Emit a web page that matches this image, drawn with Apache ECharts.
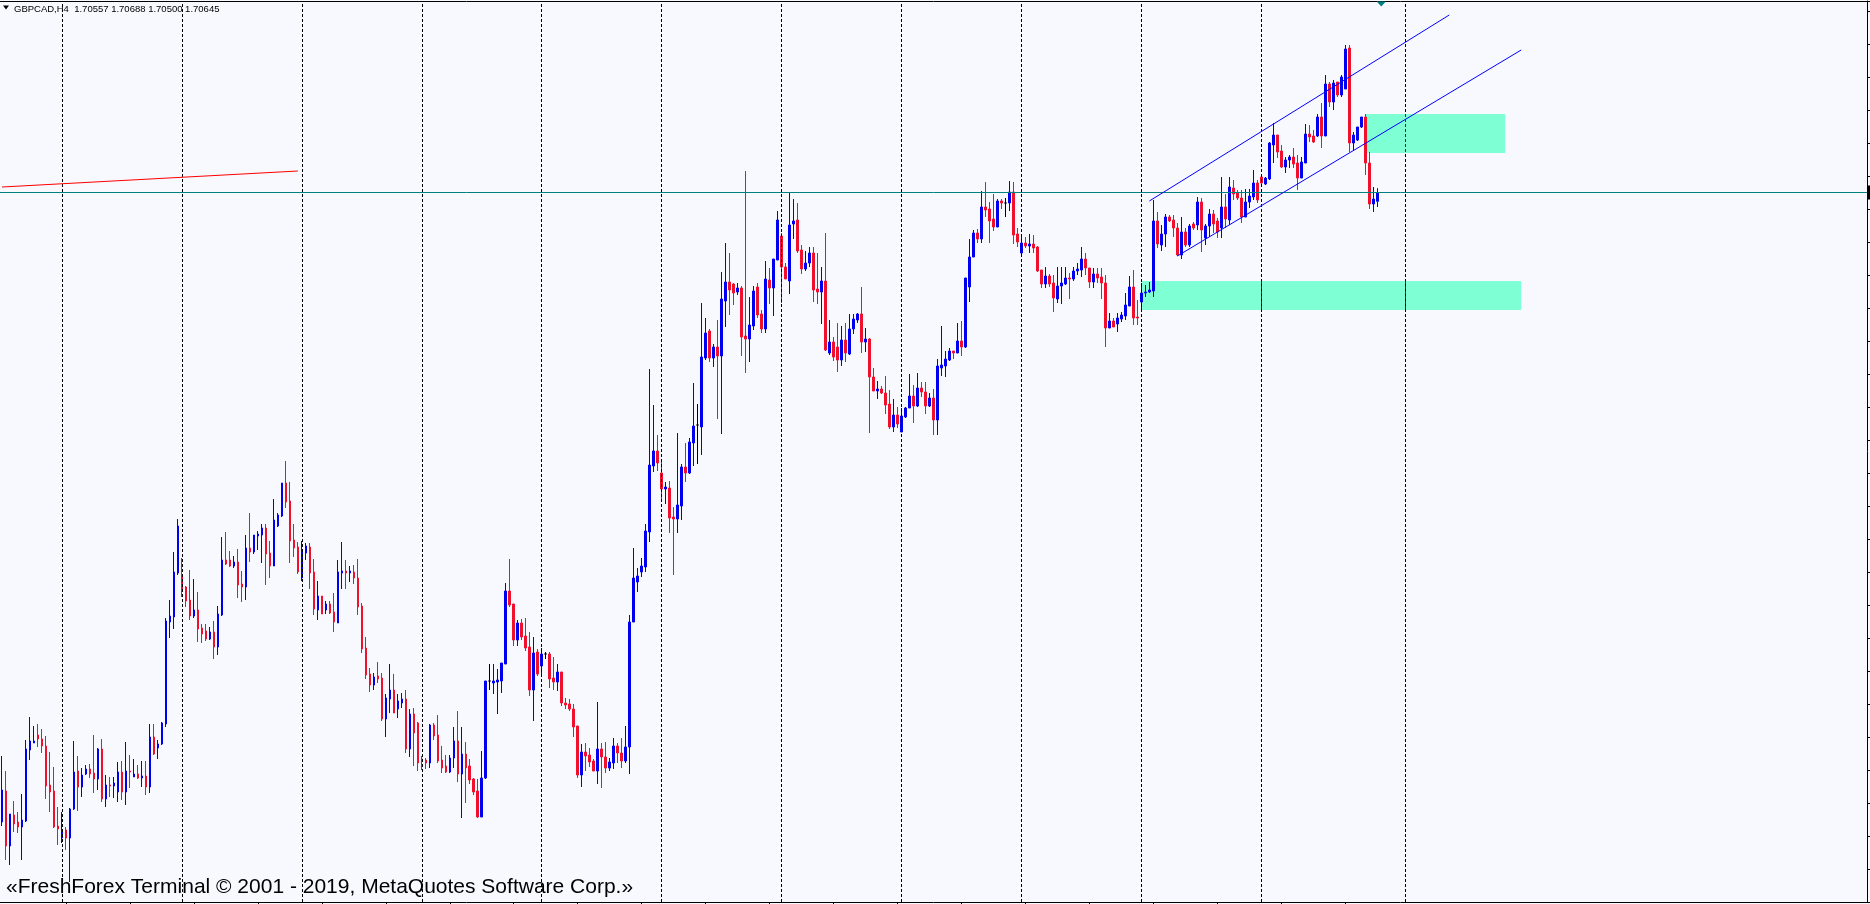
<!DOCTYPE html>
<html><head><meta charset="utf-8">
<script src="https://cdn.jsdelivr.net/npm/echarts@6/dist/echarts.min.js"></script>
<style>html,body{margin:0;padding:0;background:#f8f8ff;overflow:hidden}#chart{width:1870px;height:904px}</style>
</head><body><div id="chart"></div>
<script>
const opens = [1.6435,1.6466,1.6411,1.6442,1.6435,1.6430,1.6436,1.6507,1.6514,1.6522,
1.6518,1.6511,1.6472,1.6466,1.6431,1.6419,1.6427,1.6419,1.6448,1.6486,
1.6470,1.6483,1.6488,1.6484,1.6478,1.6508,1.6458,1.6472,1.6471,1.6465,
1.6485,1.6465,1.6486,1.6480,1.6483,1.6479,1.6481,1.6470,1.6520,1.6509,
1.6513,1.6533,1.6635,1.6640,1.6684,1.6682,1.6670,1.6657,1.6641,1.6647,
1.6629,1.6626,1.6618,1.6625,1.6610,1.6642,1.6697,1.6697,1.6691,1.6695,
1.6673,1.6670,1.6709,1.6705,1.6721,1.6722,1.6729,1.6704,1.6691,1.6731,
1.6741,1.6774,1.6756,1.6717,1.6710,1.6679,1.6704,1.6710,1.6685,1.6647,
1.6661,1.6647,1.6653,1.6645,1.6634,1.6684,1.6686,1.6684,1.6685,1.6679,
1.6651,1.6609,1.6583,1.6572,1.6581,1.6579,1.6538,1.6558,1.6567,1.6548,
1.6554,1.6558,1.6508,1.6543,1.6534,1.6498,1.6497,1.6494,1.6532,1.6522,
1.6497,1.6491,1.6485,1.6499,1.6516,1.6483,1.6503,1.6491,1.6478,1.6466,
1.6440,1.6479,1.6576,1.6574,1.6575,1.6576,1.6593,1.6666,1.6653,1.6617,
1.6634,1.6621,1.6610,1.6567,1.6605,1.6591,1.6603,1.6603,1.6579,1.6575,
1.6585,1.6554,1.6553,1.6548,1.6531,1.6482,1.6505,1.6502,1.6496,1.6486,
1.6508,1.6500,1.6489,1.6494,1.6511,1.6504,1.6496,1.6510,1.6635,1.6675,
1.6685,1.6690,1.6725,1.6791,1.6806,1.6784,1.6768,1.6769,1.6740,1.6738,
1.6751,1.6790,1.6784,1.6814,1.6832,1.6830,1.6899,1.6926,1.6899,1.6910,
1.6901,1.6956,1.6975,1.6973,1.6965,1.6969,1.6921,1.6918,1.6931,1.6970,
1.6943,1.6928,1.6977,1.6969,1.6997,1.7021,1.6990,1.6976,1.7033,1.7037,
1.7007,1.6988,1.6994,1.7004,1.6968,1.6965,1.6976,1.6904,1.6915,1.6910,
1.6897,1.6917,1.6903,1.6928,1.6937,1.6943,1.6915,1.6918,1.6880,1.6866,
1.6868,1.6864,1.6853,1.6830,1.6842,1.6825,1.6840,1.6849,1.6861,1.6851,
1.6869,1.6865,1.6851,1.6859,1.6837,1.6889,1.6891,1.6897,1.6906,1.6904,
1.6916,1.6910,1.6970,1.7000,1.7024,1.7018,1.7050,1.7048,1.7038,1.7030,
1.7056,1.7054,1.7054,1.7065,1.7023,1.7004,1.7014,1.7011,1.7013,1.7010,
1.6987,1.6973,1.6981,1.6974,1.6958,1.6971,1.6973,1.6979,1.6978,1.6986,
1.6987,1.6998,1.6989,1.6975,1.6983,1.6980,1.6974,1.6929,1.6936,1.6933,
1.6938,1.6941,1.6951,1.6970,1.6940,1.6955,1.6964,1.6965,1.6966,1.7036,
1.7012,1.7023,1.7040,1.7037,1.7029,1.7002,1.7025,1.7012,1.7033,1.7032,
1.7055,1.7019,1.7031,1.7043,1.7036,1.7029,1.7050,1.7037,1.7069,1.7064,
1.7059,1.7040,1.7055,1.7060,1.7074,1.7080,1.7073,1.7078,1.7112,1.7122,
1.7106,1.7090,1.7097,1.7100,1.7094,1.7079,1.7094,1.7123,1.7121,1.7121,
1.7140,1.7121,1.7173,1.7155,1.7175,1.7162,1.7168,1.7209,1.7114,1.7117,
1.7130,1.7140,1.7094,1.7053,1.70557];

const closes = [1.6467,1.6411,1.6443,1.6433,1.6430,1.6437,1.6508,1.6516,1.6516,1.6518,
1.6511,1.6471,1.6465,1.6430,1.6428,1.6427,1.6419,1.6448,1.6485,1.6470,
1.6482,1.6488,1.6483,1.6478,1.6508,1.6458,1.6472,1.6471,1.6474,1.6485,
1.6465,1.6486,1.6485,1.6483,1.6479,1.6481,1.6470,1.6520,1.6503,1.6513,
1.6534,1.6636,1.6641,1.6685,1.6731,1.6668,1.6656,1.6641,1.6647,1.6628,
1.6623,1.6618,1.6625,1.6610,1.6643,1.6697,1.6693,1.6691,1.6695,1.6672,
1.6670,1.6709,1.6705,1.6722,1.6723,1.6729,1.6703,1.6691,1.6737,1.6742,
1.6774,1.6755,1.6716,1.6709,1.6685,1.6705,1.6711,1.6684,1.6648,1.6661,
1.6643,1.6653,1.6644,1.6635,1.6685,1.6686,1.6684,1.6686,1.6679,1.6650,
1.6608,1.6582,1.6572,1.6580,1.6578,1.6538,1.6559,1.6567,1.6544,1.6556,
1.6558,1.6508,1.6543,1.6524,1.6494,1.6496,1.6494,1.6532,1.6521,1.6496,
1.6489,1.6485,1.6499,1.6516,1.6483,1.6503,1.6489,1.6477,1.6465,1.6440,
1.6479,1.6576,1.6576,1.6576,1.6577,1.6594,1.6666,1.6652,1.6617,1.6634,
1.6620,1.6609,1.6567,1.6604,1.6583,1.6603,1.6603,1.6578,1.6575,1.6585,
1.6554,1.6552,1.6548,1.6530,1.6482,1.6505,1.6501,1.6495,1.6486,1.6508,
1.6500,1.6489,1.6495,1.6511,1.6504,1.6496,1.6510,1.6635,1.6679,1.6681,
1.6691,1.6726,1.6792,1.6806,1.6794,1.6768,1.6770,1.6739,1.6738,1.6752,
1.6790,1.6784,1.6815,1.6831,1.6832,1.6900,1.6924,1.6899,1.6910,1.6901,
1.6958,1.6975,1.6967,1.6964,1.6969,1.6920,1.6918,1.6932,1.6966,1.6942,
1.6928,1.6978,1.6969,1.6998,1.7037,1.6990,1.6978,1.7032,1.7036,1.7006,
1.6988,1.6994,1.7004,1.6967,1.6965,1.6976,1.6907,1.6915,1.6900,1.6897,
1.6917,1.6904,1.6928,1.6938,1.6943,1.6915,1.6918,1.6880,1.6866,1.6868,
1.6864,1.6852,1.6830,1.6842,1.6833,1.6841,1.6849,1.6861,1.6851,1.6869,
1.6865,1.6851,1.6859,1.6837,1.6891,1.6892,1.6898,1.6906,1.6904,1.6916,
1.6910,1.6979,1.7000,1.7024,1.7018,1.7050,1.7047,1.7036,1.7030,1.7056,
1.7054,1.7054,1.7065,1.7022,1.7015,1.7014,1.7011,1.7013,1.7009,1.6986,
1.6973,1.6981,1.6973,1.6959,1.6971,1.6974,1.6979,1.6978,1.6986,1.6988,
1.6998,1.6989,1.6975,1.6983,1.6979,1.6974,1.6929,1.6936,1.6930,1.6939,
1.6942,1.6952,1.6970,1.6939,1.6939,1.6964,1.6965,1.6967,1.7036,1.7013,
1.7023,1.7040,1.7036,1.7029,1.7002,1.7025,1.7012,1.7031,1.7029,1.7055,
1.7027,1.7031,1.7043,1.7033,1.7025,1.7050,1.7038,1.7070,1.7063,1.7059,
1.7040,1.7055,1.7061,1.7074,1.7057,1.7074,1.7079,1.7114,1.7122,1.7105,
1.7090,1.7097,1.7100,1.7093,1.7079,1.7095,1.7123,1.7120,1.7115,1.7140,
1.7121,1.7173,1.7155,1.7174,1.7162,1.7180,1.7208,1.7114,1.7122,1.7130,
1.7140,1.7094,1.7053,1.7058,1.70645];

const lows = [1.6431,1.6397,1.6392,1.6425,1.6424,1.6397,1.6435,1.6497,1.6514,1.6510,
1.6504,1.6458,1.6445,1.6429,1.6412,1.6414,1.6407,1.6375,1.6447,1.6446,
1.6460,1.6482,1.6479,1.6464,1.6467,1.6455,1.6450,1.6460,1.6459,1.6455,
1.6457,1.6452,1.6469,1.6480,1.6478,1.6470,1.6462,1.6464,1.6502,1.6498,
1.6512,1.6530,1.6619,1.6628,1.6682,1.6660,1.6650,1.6637,1.6639,1.6615,
1.6614,1.6616,1.6617,1.6598,1.6602,1.6641,1.6692,1.6690,1.6689,1.6659,
1.6655,1.6657,1.6695,1.6703,1.6707,1.6694,1.6672,1.6679,1.6691,1.6730,
1.6740,1.6749,1.6694,1.6700,1.6683,1.6676,1.6697,1.6668,1.6642,1.6637,
1.6643,1.6643,1.6643,1.6625,1.6634,1.6668,1.6668,1.6675,1.6673,1.6642,
1.6604,1.6578,1.6565,1.6567,1.6574,1.6536,1.6520,1.6544,1.6544,1.6539,
1.6549,1.6504,1.6500,1.6491,1.6486,1.6487,1.6488,1.6489,1.6517,1.6494,
1.6484,1.6484,1.6484,1.6489,1.6475,1.6439,1.6454,1.6473,1.6462,1.6439,
1.6440,1.6478,1.6567,1.6563,1.6543,1.6564,1.6593,1.6650,1.6611,1.6611,
1.6617,1.6606,1.6561,1.6536,1.6581,1.6581,1.6598,1.6569,1.6567,1.6566,
1.6551,1.6548,1.6546,1.6520,1.6479,1.6470,1.6486,1.6490,1.6486,1.6473,
1.6469,1.6484,1.6486,1.6488,1.6494,1.6489,1.6494,1.6483,1.6635,1.6665,
1.6680,1.6685,1.6715,1.6785,1.6786,1.6758,1.6753,1.6724,1.6682,1.6724,
1.6737,1.6775,1.6783,1.6791,1.6793,1.6802,1.6897,1.6895,1.6890,1.6838,
1.6823,1.6930,1.6942,1.6952,1.6962,1.6901,1.6884,1.6895,1.6927,1.6939,
1.6924,1.6924,1.6953,1.6941,1.6997,1.6954,1.6978,1.6963,1.7018,1.7004,
1.6983,1.6986,1.6990,1.6955,1.6953,1.6933,1.6906,1.6902,1.6896,1.6885,
1.6891,1.6895,1.6902,1.6923,1.6934,1.6904,1.6905,1.6824,1.6866,1.6858,
1.6863,1.6843,1.6828,1.6825,1.6829,1.6825,1.6839,1.6849,1.6834,1.6850,
1.6860,1.6843,1.6850,1.6822,1.6822,1.6881,1.6880,1.6896,1.6898,1.6904,
1.6901,1.6909,1.6955,1.7000,1.7014,1.7014,1.7040,1.7014,1.7026,1.7030,
1.7048,1.7040,1.7046,1.7013,1.7010,1.7001,1.7009,1.7004,1.7004,1.6985,
1.6969,1.6969,1.6970,1.6945,1.6954,1.6953,1.6972,1.6958,1.6976,1.6982,
1.6980,1.6982,1.6969,1.6969,1.6974,1.6958,1.6910,1.6929,1.6930,1.6925,
1.6935,1.6937,1.6951,1.6932,1.6932,1.6947,1.6960,1.6964,1.6960,1.7009,
1.7006,1.7010,1.7035,1.7020,1.7001,1.6998,1.7010,1.7010,1.7027,1.7027,
1.7005,1.7012,1.7020,1.7024,1.7019,1.7019,1.7029,1.7032,1.7057,1.7057,
1.7034,1.7040,1.7049,1.7057,1.7054,1.7072,1.7072,1.7077,1.7094,1.7099,
1.7089,1.7084,1.7089,1.7089,1.7067,1.7079,1.7094,1.7115,1.7114,1.7120,
1.7109,1.7121,1.7150,1.7147,1.7160,1.7160,1.7168,1.7105,1.7106,1.7116,
1.7129,1.7082,1.7048,1.7045,1.70500];

const highs = [1.6501,1.6486,1.6443,1.6456,1.6445,1.6463,1.6517,1.6540,1.6531,1.6533,
1.6528,1.6521,1.6505,1.6490,1.6450,1.6445,1.6430,1.6449,1.6516,1.6501,
1.6489,1.6492,1.6493,1.6522,1.6509,1.6518,1.6482,1.6480,1.6480,1.6495,
1.6496,1.6515,1.6502,1.6498,1.6492,1.6496,1.6496,1.6533,1.6533,1.6517,
1.6535,1.6639,1.6657,1.6705,1.6738,1.6699,1.6671,1.6687,1.6678,1.6665,
1.6633,1.6633,1.6630,1.6636,1.6651,1.6720,1.6725,1.6706,1.6701,1.6708,
1.6686,1.6722,1.6744,1.6722,1.6726,1.6733,1.6733,1.6716,1.6758,1.6744,
1.6774,1.6796,1.6775,1.6733,1.6715,1.6716,1.6714,1.6714,1.6698,1.6676,
1.6661,1.6656,1.6656,1.6664,1.6697,1.6715,1.6697,1.6691,1.6692,1.6698,
1.6654,1.6620,1.6589,1.6584,1.6595,1.6584,1.6563,1.6593,1.6583,1.6563,
1.6564,1.6567,1.6548,1.6549,1.6535,1.6501,1.6499,1.6533,1.6534,1.6542,
1.6511,1.6502,1.6502,1.6530,1.6546,1.6530,1.6515,1.6498,1.6479,1.6478,
1.6506,1.6576,1.6593,1.6593,1.6588,1.6594,1.6674,1.6698,1.6653,1.6637,
1.6638,1.6639,1.6625,1.6620,1.6608,1.6609,1.6605,1.6605,1.6600,1.6593,
1.6585,1.6559,1.6558,1.6553,1.6531,1.6513,1.6514,1.6509,1.6498,1.6555,
1.6514,1.6515,1.6499,1.6519,1.6514,1.6519,1.6531,1.6642,1.6709,1.6689,
1.6699,1.6733,1.6888,1.6852,1.6822,1.6795,1.6775,1.6776,1.6750,1.6824,
1.6793,1.6814,1.6819,1.6874,1.6853,1.6954,1.6939,1.6928,1.6913,1.6937,
1.6985,1.7014,1.7004,1.6974,1.6974,1.6971,1.7086,1.6960,1.6971,1.6974,
1.6947,1.6996,1.6989,1.6998,1.7046,1.7024,1.6994,1.7065,1.7058,1.7054,
1.7012,1.7006,1.7010,1.7010,1.7004,1.6990,1.7024,1.6937,1.6920,1.6934,
1.6931,1.6934,1.6943,1.6943,1.6944,1.6970,1.6929,1.6919,1.6889,1.6876,
1.6871,1.6881,1.6867,1.6858,1.6850,1.6849,1.6850,1.6883,1.6872,1.6884,
1.6875,1.6875,1.6864,1.6868,1.6898,1.6931,1.6906,1.6909,1.6906,1.6934,
1.6936,1.6979,1.7018,1.7027,1.7028,1.7066,1.7075,1.7055,1.7063,1.7058,
1.7058,1.7059,1.7076,1.7075,1.7029,1.7022,1.7020,1.7023,1.7022,1.7011,
1.6987,1.6990,1.6983,1.6982,1.6990,1.6990,1.6990,1.6984,1.6990,1.6994,
1.7010,1.7004,1.6989,1.6989,1.6989,1.6989,1.6982,1.6944,1.6939,1.6944,
1.6945,1.6964,1.6981,1.6987,1.6957,1.6974,1.6972,1.6975,1.7057,1.7045,
1.7032,1.7043,1.7042,1.7042,1.7034,1.7040,1.7029,1.7033,1.7035,1.7060,
1.7059,1.7033,1.7048,1.7047,1.7039,1.7080,1.7063,1.7080,1.7077,1.7067,
1.7067,1.7068,1.7068,1.7087,1.7077,1.7081,1.7080,1.7115,1.7134,1.7122,
1.7112,1.7100,1.7102,1.7109,1.7102,1.7100,1.7133,1.7132,1.7127,1.7143,
1.7154,1.7182,1.7175,1.7177,1.7175,1.7182,1.7212,1.7212,1.7125,1.7130,
1.7140,1.7143,1.7105,1.7070,1.70688];

// chart frame (MT4 keeps empty bar slots on the right: chart shift)
const slotCount = 467;
const categories = Array.from({length: slotCount}, (_, i) => String(i));
const separatorBars = [15,45,75,105,135,165,195,225,255,285,315,351];
const timeTickStep = 16;
const priceMin = 1.6355, priceMax = 1.7256, priceStep = 0.0033;
const bidPrice = 1.70645;
const headerText = 'GBPCAD,H4  1.70557 1.70688 1.70500 1.70645';
const footerText = '«FreshForex Terminal © 2001 - 2019, MetaQuotes Software Corp.»';

// drawn objects (bar index, price)
const redTrend = [[0, 1.7070], [74, 1.7086]];
const channelUpper = [[287, 1.7056], [362, 1.7242]];
const channelLower = [[294, 1.7001], [380, 1.7207]];
const zoneUpper = [[341, 1.7143], [376, 1.7104]];
const zoneLower = [[285, 1.6976], [380, 1.6947]];
const shiftMarkerBar = 345;

const BULL = '#0000f0', BEAR = '#f0102c', TEAL = '#008080', ZONE = '#7fffd4';

const candleData = opens.map((o, i) => [o, closes[i], lows[i], highs[i]]);
const cat = k => categories[k];
const seg = (a, b) => [{coord: [cat(a[0]), a[1]]}, {coord: [cat(b[0]), b[1]]}];

// separator parts that cross the zones are drawn in XOR colour like MT4
const zoneCrossings = [];
[zoneUpper, zoneLower].forEach(z => {
  separatorBars.forEach(k => {
    if (k > z[0][0] && k < z[1][0]) zoneCrossings.push(seg([k, z[0][1]], [k, z[1][1]]));
  });
});

const chart = echarts.init(document.getElementById('chart'), null, {renderer: 'canvas'});
chart.setOption({
  animation: false,
  backgroundColor: '#f8f8ff',
  textStyle: {fontFamily: 'Liberation Sans'},
  grid: {left: -1.5, right: 3, top: 1, bottom: 2, show: true, backgroundColor: '#f8f8ff', borderWidth: 0},
  xAxis: [{
    type: 'category', data: categories, boundaryGap: true, position: 'bottom',
    axisLine: {show: true, lineStyle: {color: '#000', width: 1}},
    axisTick: {show: true, alignWithLabel: true, length: 2, lineStyle: {color: '#000'},
      interval: (i) => i > 0 && i < opens.length && i % timeTickStep === 0},
    axisLabel: {show: false}, splitLine: {show: false}
  }, {
    type: 'category', data: categories, boundaryGap: true, position: 'top',
    axisLine: {show: true, lineStyle: {color: '#000', width: 1}},
    axisTick: {show: false}, axisLabel: {show: false}, splitLine: {show: false}
  }],
  yAxis: {
    type: 'value', position: 'right', min: priceMin, max: priceMax, interval: priceStep,
    axisLine: {show: true, lineStyle: {color: '#000', width: 1}},
    axisTick: {show: true, inside: false, length: 3, lineStyle: {color: '#000'}},
    axisLabel: {show: false}, splitLine: {show: false}
  },
  graphic: [
    {type: 'polygon', shape: {points: [[3, 5.5], [9, 5.5], [6, 9.5]]}, style: {fill: '#000'}},
    {type: 'text', left: 14, top: 4, style: {text: headerText, font: '9.5px "Liberation Sans"', fill: '#000'}},
    {type: 'text', left: 6, top: 877, style: {text: footerText, font: '21px "Liberation Sans"', fill: '#000'}}
  ],
  series: [
    {
      name: 'zones', type: 'line', data: [], z: 1, silent: true,
      markArea: {silent: true, itemStyle: {color: ZONE, opacity: 1}, label: {show: false},
        data: [seg(zoneUpper[0], zoneUpper[1]), seg(zoneLower[0], zoneLower[1])]}
    },
    {
      name: 'separators', type: 'line', data: [], z: 2, silent: true,
      markLine: {silent: true, precision: 5, symbol: ['none', 'none'], label: {show: false},
        lineStyle: {color: '#000', width: 1, type: [3, 2]},
        data: separatorBars.map(k => ({xAxis: cat(k)})).concat(
          zoneCrossings.map(s => s.map(p => Object.assign({}, p))).map(s => {
            s[0].lineStyle = {color: '#80002b', width: 1, type: [3, 2]};
            return s;
          }))}
    },
    {
      name: 'bid', type: 'line', data: [], z: 2, silent: true,
      markLine: {silent: true, precision: 5, symbol: ['none', 'none'],
        lineStyle: {color: TEAL, width: 1, type: 'solid'},
        label: {show: true, position: 'end', distance: 1, formatter: String(bidPrice),
          backgroundColor: '#000', color: '#fff', fontSize: 10, padding: [2, 3]},
        data: [{yAxis: bidPrice}]}
    },
    {
      name: 'GBPCAD,H4', type: 'candlestick', data: candleData, z: 3,
      barWidth: 2,
      itemStyle: {color: BULL, color0: BEAR, borderColor: BULL, borderColor0: BEAR,
        borderColorDoji: '#000', borderWidth: 1}
    },
    {
      name: 'objects', type: 'line', data: [], z: 4, silent: true,
      markLine: {silent: true, precision: 5, symbol: ['none', 'none'], label: {show: false},
        data: [
          seg(redTrend[0], redTrend[1]).map((p, i) => i ? p : Object.assign(p, {lineStyle: {color: '#ff0000', width: 1, type: 'solid'}})),
          seg(channelUpper[0], channelUpper[1]).map((p, i) => i ? p : Object.assign(p, {lineStyle: {color: '#0000ff', width: 1, type: 'solid'}})),
          seg(channelLower[0], channelLower[1]).map((p, i) => i ? p : Object.assign(p, {lineStyle: {color: '#0000ff', width: 1, type: 'solid'}}))
        ]},
      markPoint: {silent: true, symbol: 'triangle', symbolRotate: 180, symbolSize: [9, 5],
        symbolOffset: [0, 3], itemStyle: {color: TEAL}, label: {show: false},
        data: [{coord: [cat(shiftMarkerBar), priceMax]}]}
    }
  ]
});
</script>
</body></html>
